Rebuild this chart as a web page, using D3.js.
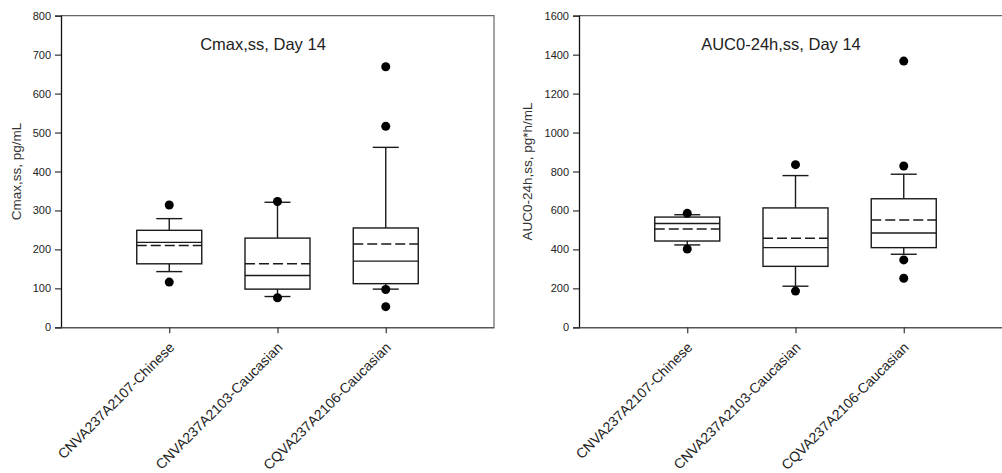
<!DOCTYPE html>
<html>
<head>
<meta charset="utf-8">
<script src="https://cdn.jsdelivr.net/npm/d3@7"></script>
<style>
  html, body { margin: 0; padding: 0; background: #fff; }
  svg { display: block; font-family: "Liberation Sans", Arial, sans-serif; }
</style>
</head>
<body>
<svg id="chart" width="1002" height="473"></svg>
<script>
// Study groups shown on both panels
const categories = ["CNVA237A2107-Chinese", "CNVA237A2103-Caucasian", "CQVA237A2106-Caucasian"];

// Cmax,ss (pg/mL) summary per group
const cmaxLowerWhisker = [143, 79, 98];
const cmaxQ1           = [163, 98, 112];
const cmaxMedian       = [218, 133, 170];
const cmaxMean         = [210, 163, 214];
const cmaxQ3           = [249, 229, 255];
const cmaxUpperWhisker = [279, 321, 462];
const cmaxOutliers     = [[314, 116], [323, 76], [669, 516, 97, 53]];
const cmaxTicks        = [0, 100, 200, 300, 400, 500, 600, 700, 800];

// AUC0-24h,ss (pg*h/mL) summary per group
const aucLowerWhisker = [423, 211, 375];
const aucQ1           = [443, 313, 409];
const aucMedian       = [533, 409, 484];
const aucMean         = [505, 457, 551];
const aucQ3           = [566, 613, 660];
const aucUpperWhisker = [578, 779, 786];
const aucOutliers     = [[585, 402], [835, 186], [1367, 828, 346, 252]];
const aucTicks        = [0, 200, 400, 600, 800, 1000, 1200, 1400, 1600];

const svg = d3.select("#chart");
const textColor = "#222";

function drawPanel(opt) {
  const { left, top, width, height, title, yLabel, yLabelOffset, yMax, ticks,
          lw, q1, med, mean, q3, uw, outliers } = opt;
  const right = left + width, bottom = top + height;

  const x = d3.scalePoint().domain(categories).range([left, right]).padding(1);
  const y = d3.scaleLinear().domain([0, yMax]).range([bottom, top]);

  const g = svg.append("g");

  // frame: top and right edges
  g.append("path")
    .attr("d", `M${left},${top}H${right}V${bottom}`)
    .attr("fill", "none").attr("stroke", "#666").attr("stroke-width", 1.2);

  // y axis
  const yAxis = g.append("g")
    .attr("transform", `translate(${left},0)`)
    .call(d3.axisLeft(y).tickValues(ticks).tickSize(6).tickPadding(4).tickFormat(d3.format("d")));
  yAxis.select(".domain").attr("stroke", "#111").attr("stroke-width", 1.3);
  yAxis.selectAll(".tick line").attr("stroke", "#333").attr("stroke-width", 1.2);
  yAxis.selectAll(".tick text")
    .attr("fill", textColor).style("font-size", "11px")
    .style("font-family", "'Liberation Sans', Arial, sans-serif");

  // x axis
  const xAxis = g.append("g")
    .attr("transform", `translate(0,${bottom})`)
    .call(d3.axisBottom(x).tickSize(6).tickSizeOuter(0).tickFormat(""));
  xAxis.select(".domain").attr("stroke", "#555").attr("stroke-width", 1.6);
  xAxis.selectAll(".tick line").attr("stroke", "#333").attr("stroke-width", 1.2);

  // rotated category labels
  g.selectAll("text.cat")
    .data(categories)
    .join("text")
    .attr("class", "cat")
    .attr("transform", d => `translate(${x(d) + 6},${bottom + 21}) rotate(-45)`)
    .attr("text-anchor", "end")
    .attr("fill", textColor)
    .style("font-size", "14px")
    .text(d => d);

  // panel title
  g.append("text")
    .attr("x", left + 202).attr("y", top + 34)
    .attr("text-anchor", "middle")
    .attr("fill", textColor)
    .style("font-size", "16.5px")
    .text(title);

  // y axis title
  g.append("text")
    .attr("transform", `translate(${left - yLabelOffset},${(top + bottom) / 2}) rotate(-90)`)
    .attr("text-anchor", "middle")
    .attr("fill", "#333")
    .style("font-size", "13.5px")
    .text(yLabel);

  const boxHalf = 32.5, capHalf = 13;
  const stroke = "#1a1a1a", sw = 1.4;

  categories.forEach((c, i) => {
    const cx = x(c);
    const bg = g.append("g");
    // whiskers
    bg.append("line").attr("x1", cx).attr("x2", cx).attr("y1", y(q3[i])).attr("y2", y(uw[i]))
      .attr("stroke", stroke).attr("stroke-width", sw);
    bg.append("line").attr("x1", cx).attr("x2", cx).attr("y1", y(q1[i])).attr("y2", y(lw[i]))
      .attr("stroke", stroke).attr("stroke-width", sw);
    // caps
    [uw[i], lw[i]].forEach(v => {
      bg.append("line").attr("x1", cx - capHalf).attr("x2", cx + capHalf)
        .attr("y1", y(v)).attr("y2", y(v))
        .attr("stroke", stroke).attr("stroke-width", sw);
    });
    // box
    bg.append("rect")
      .attr("x", cx - boxHalf).attr("width", boxHalf * 2)
      .attr("y", y(q3[i])).attr("height", y(q1[i]) - y(q3[i]))
      .attr("fill", "#fff").attr("stroke", stroke).attr("stroke-width", sw);
    // median
    bg.append("line").attr("x1", cx - boxHalf).attr("x2", cx + boxHalf)
      .attr("y1", y(med[i])).attr("y2", y(med[i]))
      .attr("stroke", stroke).attr("stroke-width", sw);
    // mean (dashed)
    bg.append("line").attr("x1", cx - boxHalf).attr("x2", cx + boxHalf)
      .attr("y1", y(mean[i])).attr("y2", y(mean[i]))
      .attr("stroke", stroke).attr("stroke-width", sw)
      .attr("stroke-dasharray", "10,4");
    // outliers
    bg.selectAll("circle")
      .data(outliers[i])
      .join("circle")
      .attr("cx", cx).attr("cy", d => y(d)).attr("r", 4.5)
      .attr("fill", "#000");
  });
}

drawPanel({
  left: 61, top: 15.7, width: 433, height: 311.6,
  title: "Cmax,ss, Day 14", yLabel: "Cmax,ss, pg/mL", yLabelOffset: 40, yMax: 800, ticks: cmaxTicks,
  lw: cmaxLowerWhisker, q1: cmaxQ1, med: cmaxMedian, mean: cmaxMean,
  q3: cmaxQ3, uw: cmaxUpperWhisker, outliers: cmaxOutliers
});

drawPanel({
  left: 579, top: 15.7, width: 433, height: 311.6,
  title: "AUC0-24h,ss, Day 14", yLabel: "AUC0-24h,ss, pg*h/mL", yLabelOffset: 47, yMax: 1600, ticks: aucTicks,
  lw: aucLowerWhisker, q1: aucQ1, med: aucMedian, mean: aucMean,
  q3: aucQ3, uw: aucUpperWhisker, outliers: aucOutliers
});
</script>
</body>
</html>
